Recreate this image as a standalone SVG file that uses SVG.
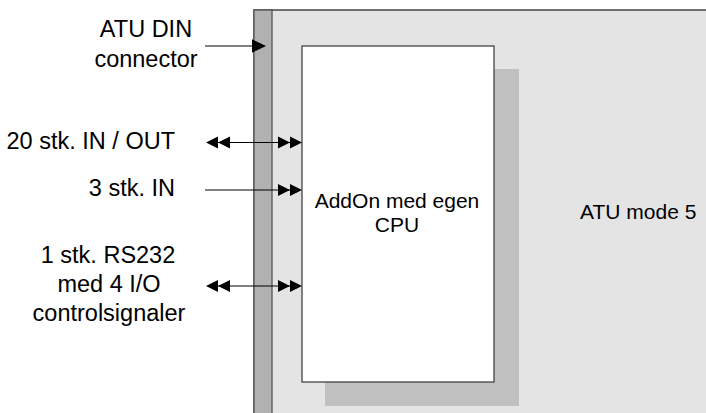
<svg xmlns="http://www.w3.org/2000/svg" width="706" height="413" viewBox="0 0 706 413">
  <style>
    text { font-family: "Liberation Sans", Arial, sans-serif; fill: #000; }
    .lbl { font-size: 23.5px; }
    .in { font-size: 21px; }
    .wire { stroke: #000; stroke-width: 1.2; fill: none; }
    .head { fill: #000; }
  </style>
  <rect x="0" y="0" width="706" height="413" fill="#ffffff"/>
  <g id="atu-mode-5">
    <rect x="254" y="10" width="470" height="420" fill="#e4e4e4" stroke="#444" stroke-width="1.5"/>
    <text class="in" x="580" y="219">ATU mode 5</text>
  </g>
  <g id="din-connector">
    <rect x="254" y="10" width="18" height="420" fill="#b1b1b1" stroke="#555" stroke-width="1.3"/>
  </g>
  <g id="addon-cpu">
    <rect x="325" y="69" width="194" height="337" fill="#c0c0c0"/>
    <rect x="302" y="46" width="192" height="336" fill="#ffffff" stroke="#444" stroke-width="1.3"/>
    <text class="in" x="397" y="208" text-anchor="middle">AddOn med egen</text>
    <text class="in" x="397" y="232" text-anchor="middle">CPU</text>
  </g>
  <g id="labels">
    <text class="lbl" x="146" y="37" text-anchor="middle" font-size="24.5">ATU DIN</text>
    <text class="lbl" x="146" y="67" text-anchor="middle">connector</text>
    <text class="lbl" x="175" y="149" text-anchor="end">20 stk. IN / OUT</text>
    <text class="lbl" x="175" y="196" text-anchor="end">3 stk. IN</text>
    <text class="lbl" x="108" y="263" text-anchor="middle">1 stk. RS232</text>
    <text class="lbl" x="109" y="292" text-anchor="middle">med 4 I/O</text>
    <text class="lbl" x="109" y="321" text-anchor="middle">controlsignaler</text>
  </g>
  <g id="connectors">
    <!-- ATU DIN connector -->
    <line class="wire" x1="205" y1="46" x2="253" y2="46"/>
    <polygon class="head" points="266,46 252,39.3 252,52.7"/>
    <!-- 20 stk IN/OUT -->
    <line class="wire" x1="208" y1="142.5" x2="300" y2="142.5"/>
    <polygon class="head" points="206,142.5 218,136.5 218,148.5"/>
    <polygon class="head" points="218,142.5 230,136.5 230,148.5"/>
    <polygon class="head" points="302,142.5 290,136.5 290,148.5"/>
    <polygon class="head" points="290,142.5 278,136.5 278,148.5"/>
    <!-- 3 stk IN -->
    <line class="wire" x1="205" y1="190" x2="300" y2="190"/>
    <polygon class="head" points="302,190 290,184 290,196"/>
    <polygon class="head" points="290,190 278,184 278,196"/>
    <!-- RS232 -->
    <line class="wire" x1="208" y1="286" x2="300" y2="286"/>
    <polygon class="head" points="206,286 218,280 218,292"/>
    <polygon class="head" points="218,286 230,280 230,292"/>
    <polygon class="head" points="302,286 290,280 290,292"/>
    <polygon class="head" points="290,286 278,280 278,292"/>
  </g>
</svg>
